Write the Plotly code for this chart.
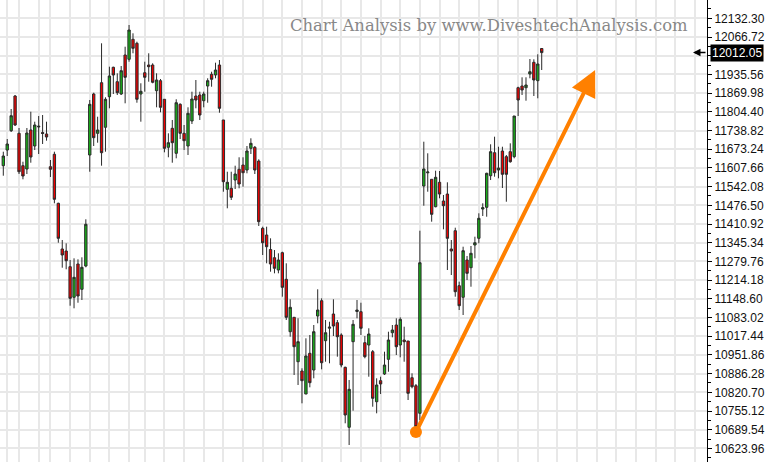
import plotly.graph_objects as go

# ---- data ----
opens = [11615.4, 11670.4, 11738.1, 11859.8, 11729.0, 11615.4, 11603.8, 11740.6, 11684.5, 11751.1,
         11731.8, 11726.6, 11611.9, 11655.4, 11483.5, 11323.3, 11316.2, 11261.2, 11153.9, 11270.7,
         11181.9, 11263.6, 11652.9, 11866.8, 11729.0, 11906.5, 11750.1, 11857.4, 11960.5, 11910.0,
         11866.8, 12003.6, 11988.5, 12058.7, 12044.6, 11866.8, 11941.5, 11968.5, 11968.5, 11878.4,
         11913.5, 11848.3, 11679.9, 11746.5, 11658.9, 11830.7, 11729.0, 11684.5, 11772.2, 11859.8,
         11863.3, 11843.3, 11894.9, 11935.9, 11933.5, 11968.5, 11775.7, 11532.6, 11536.1, 11565.2,
         11602.8, 11617.8, 11600.3, 11676.4, 11679.9, 11631.9, 11395.9, 11372.4, 11321.5, 11292.7,
         11249.6, 11310.3, 11217.0, 11033.2, 11083.7, 10928.0, 10895.4, 10814.7, 10957.5, 10898.9,
         11088.3, 11141.9, 11001.7, 11045.5, 11095.3, 11064.8, 11021.7, 10908.4, 10698.0, 10998.2,
         11104.1, 11103.4, 10994.7, 10986.6, 10963.1, 10787.7, 10861.4, 10884.9, 10936.4, 11029.7,
         11056.7, 10986.6, 11004.1, 11000.6, 10871.9, 10843.9, 10747.1, 11544.2, 11590.5, 11567.7,
         11471.6, 11557.2, 11491.6, 11516.1, 11323.3, 11387.4, 11194.6, 11153.9, 11284.7, 11257.7,
         11337.3, 11360.8, 11463.5, 11469.5, 11580.3, 11661.0, 11600.3, 11666.9, 11647.0, 11664.5,
         11647.0, 11888.9, 11894.9, 11888.9, 11937.0, 11978.0, 11913.5, 12026.4]
highs = [11664.5, 11709.0, 11814.2, 11863.3, 11747.6, 11629.4, 11747.6, 11804.8, 11769.7, 11789.7,
         11793.2, 11769.7, 11635.4, 11664.5, 11485.6, 11354.8, 11343.2, 11284.7, 11290.6, 11287.1,
         11294.1, 11427.4, 11845.8, 11871.4, 11787.2, 12044.6, 11855.3, 11962.6, 11962.6, 11939.4,
         11965.0, 12032.7, 12108.8, 12079.7, 12050.3, 11904.4, 11980.1, 12009.6, 11974.5, 11939.4,
         11919.4, 11848.3, 11729.0, 11775.7, 11848.3, 11834.2, 11758.1, 11820.2, 11874.9, 11915.9,
         11874.9, 11874.9, 11921.9, 11945.0, 11976.6, 11986.1, 11775.7, 11594.3, 11594.3, 11615.4,
         11644.9, 11644.9, 11684.5, 11711.5, 11684.5, 11637.8, 11401.5, 11401.5, 11360.8, 11319.7,
         11308.2, 11313.8, 11273.1, 11146.9, 11083.7, 11080.2, 10904.9, 11010.1, 11021.7, 11056.7,
         11181.9, 11150.4, 11074.3, 11068.3, 11146.9, 11074.3, 11027.6, 10910.5, 10863.8, 11074.3,
         11144.4, 11134.9, 11018.1, 11045.2, 10969.0, 10869.8, 10875.4, 10963.1, 11033.2, 11056.7,
         11080.2, 11083.7, 11050.8, 11000.6, 10887.3, 10849.8, 11387.4, 11699.6, 11658.9, 11567.7,
         11597.9, 11596.8, 11512.6, 11557.2, 11354.8, 11398.0, 11208.6, 11331.3, 11298.7, 11333.8,
         11366.4, 11448.5, 11483.5, 11590.8, 11690.4, 11717.1, 11682.0, 11682.0, 11652.9, 11693.9,
         11789.7, 11892.4, 11925.4, 11925.4, 11989.6, 11988.5, 12006.1, 12027.1]
lows = [11580.3, 11649.4, 11733.6, 11754.6, 11586.3, 11567.7, 11586.3, 11625.9, 11670.4, 11656.4,
        11691.5, 11703.1, 11575.8, 11483.5, 11345.3, 11257.7, 11252.1, 11124.4, 11115.3, 11134.9,
        11144.4, 11259.1, 11594.3, 11684.5, 11696.1, 11615.4, 11664.5, 11816.7, 11866.8, 11863.3,
        11863.3, 11834.2, 11980.1, 12009.6, 11836.3, 11769.7, 11874.9, 11910.0, 11904.4, 11820.2,
        11802.7, 11662.4, 11644.9, 11625.9, 11641.3, 11709.0, 11670.4, 11652.9, 11761.6, 11816.7,
        11775.7, 11820.2, 11836.3, 11892.4, 11921.9, 11801.3, 11524.2, 11466.0, 11495.1, 11533.7,
        11536.1, 11541.7, 11588.7, 11656.4, 11586.3, 11403.9, 11302.2, 11273.1, 11243.7, 11238.0,
        11238.0, 11156.0, 11074.3, 11015.7, 10881.4, 10846.3, 10782.1, 10814.7, 10838.2, 10869.8,
        11062.7, 10901.4, 10928.0, 10922.4, 11018.1, 10945.6, 10908.4, 10712.0, 10635.9, 10756.2,
        11080.2, 11021.7, 10939.9, 10875.4, 10770.2, 10747.1, 10814.7, 10881.4, 10892.9, 11013.6,
        10951.5, 10943.4, 10928.0, 10793.7, 10834.7, 10694.5, 10723.6, 11475.1, 11524.2, 11419.0,
        11469.5, 11501.1, 11392.3, 11249.6, 11232.1, 11156.0, 11109.3, 11091.8, 11214.5, 11191.0,
        11290.6, 11343.2, 11439.0, 11436.5, 11565.2, 11576.8, 11571.2, 11537.2, 11489.1, 11625.9,
        11641.3, 11789.7, 11863.3, 11843.3, 11921.9, 11859.8, 11851.8, 11951.0]
closes = [11649.4, 11691.5, 11790.7, 11758.1, 11594.3, 11579.3, 11730.1, 11645.9, 11758.1, 11753.6,
          11728.3, 11716.0, 11602.8, 11497.6, 11360.8, 11302.2, 11282.2, 11150.4, 11224.0, 11158.4,
          11259.1, 11409.9, 11830.7, 11713.6, 11740.6, 11661.0, 11848.3, 11930.0, 11933.5, 11871.4,
          11948.6, 11925.4, 12091.3, 12027.1, 11848.3, 11876.3, 11925.4, 11962.6, 11907.9, 11915.9,
          11820.2, 11676.4, 11696.1, 11696.1, 11836.3, 11729.0, 11703.1, 11799.2, 11849.3, 11845.8,
          11793.2, 11866.8, 11913.5, 11918.4, 11951.0, 11816.7, 11559.3, 11557.2, 11504.6, 11586.3,
          11551.2, 11590.8, 11666.9, 11693.9, 11600.3, 11419.0, 11345.3, 11331.3, 11270.7, 11255.6,
          11284.7, 11188.9, 11083.7, 11118.8, 10980.6, 10998.2, 10861.4, 10948.0, 10854.4, 11033.2,
          11109.3, 10924.5, 11029.7, 11049.0, 11053.2, 11015.7, 10916.4, 10741.1, 10831.2, 11059.2,
          11109.3, 11045.2, 10945.6, 11025.2, 10799.7, 10846.3, 10850.0, 10916.4, 11004.1, 11039.2,
          10980.6, 11076.7, 10998.2, 10817.2, 10840.3, 10700.1, 11275.2, 11603.8, 11593.3, 11444.9,
          11574.7, 11516.1, 11475.1, 11360.8, 11316.2, 11173.5, 11124.4, 11317.3, 11238.0, 11308.2,
          11345.3, 11430.9, 11468.1, 11588.7, 11664.5, 11590.8, 11607.3, 11585.2, 11585.2, 11629.4,
          11789.7, 11845.8, 11880.9, 11898.4, 11945.0, 11915.9, 11972.1, 12012.05]
bars = list(range(len(closes)))

# price grid levels; the one hidden behind the last-price box has no label
price_levels = ["12132.30", "12066.72", "12001.14", "11935.56", "11869.98", "11804.40", "11738.82",
                "11673.24", "11607.66", "11542.08", "11476.50", "11410.92", "11345.34", "11279.76",
                "11214.18", "11148.60", "11083.02", "11017.44", "10951.86", "10886.28", "10820.70",
                "10755.12", "10689.54", "10623.96"]
hidden_label = "12001.14"
week_lines = [1, 4, 9, 12, 17, 22, 27, 32, 36, 41, 46, 51, 56, 61, 66, 71, 76, 81, 86, 91, 96, 101,
              106, 111, 116, 121, 126, 131, 136, 141, 146, 151, 156, 161, 166, 171, 176]
last_price = 12012.05
arrow_from = (105, 10681.5)
arrow_to = (150.6, 11951.0)
watermark = "Chart Analysis by www.DiveshtechAnalysis.com"

fig = go.Figure()
fig.add_trace(go.Candlestick(
    x=bars, open=opens, high=highs, low=lows, close=closes,
    increasing=dict(fillcolor="#19b019", line=dict(color="#2a2a2a", width=1)),
    decreasing=dict(fillcolor="#f00000", line=dict(color="#2a2a2a", width=1)),
    whiskerwidth=0, showlegend=False, hoverinfo="skip"))

fig.add_trace(go.Scatter(x=[arrow_from[0]], y=[arrow_from[1]], mode="markers",
                         marker=dict(size=12, color="#ff8000"), showlegend=False, hoverinfo="skip"))

fig.add_annotation(x=arrow_to[0], y=arrow_to[1], ax=arrow_from[0], ay=arrow_from[1],
                   xref="x", yref="y", axref="x", ayref="y", text="", showarrow=True,
                   arrowhead=2, arrowsize=1.3, arrowwidth=4, arrowcolor="#ff8000")

fig.add_annotation(x=690 / 707, y=1 - 25 / 462, xref="paper", yref="paper", xanchor="right",
                   yanchor="middle", text=watermark, showarrow=False,
                   font=dict(family="DejaVu Serif", size=16.4, color="#888888"))

fig.add_annotation(x=1, y=last_price, xref="paper", yref="y", xanchor="left", xshift=3,
                   text="12012.05", showarrow=False, bgcolor="black", borderpad=1,
                   font=dict(family="Liberation Sans, Arial", size=12, color="white"))
fig.add_annotation(x=693 / 707, y=last_price, xref="paper", yref="y", ax=14, ay=0,
                   text="", showarrow=True, arrowhead=2, arrowsize=1, arrowwidth=1.5,
                   arrowcolor="black")

fig.update_layout(
    width=768, height=462, margin=dict(l=0, r=61, t=0, b=0, pad=0),
    paper_bgcolor="white", plot_bgcolor="white", boxgap=0.15,
    xaxis=dict(range=[-0.84, 179.06], rangeslider=dict(visible=False),
               tickmode="array", tickvals=week_lines, showticklabels=False, ticks="",
               showgrid=True, gridcolor="#e8e8e8", gridwidth=2, zeroline=False, showline=False),
    yaxis=dict(range=[10576.3, 12196.5], side="right", tickmode="array",
               tickvals=[float(t) for t in price_levels],
               ticktext=["" if t == hidden_label else t for t in price_levels],
               ticks="outside", ticklen=4, tickcolor="black", showline=True, linecolor="black",
               linewidth=1, showgrid=True, gridcolor="#e8e8e8", gridwidth=2, zeroline=False,
               tickfont=dict(family="Liberation Sans, Arial", size=12, color="#111"),
               minor=dict(ticks="outside", ticklen=3, tickcolor="black",
                          tick0=10623.96 - 32.79, dtick=65.58, showgrid=False)),
)

fig.write_html("out.html", config={"displayModeBar": False},
               post_script="document.body.style.margin='0px';")
